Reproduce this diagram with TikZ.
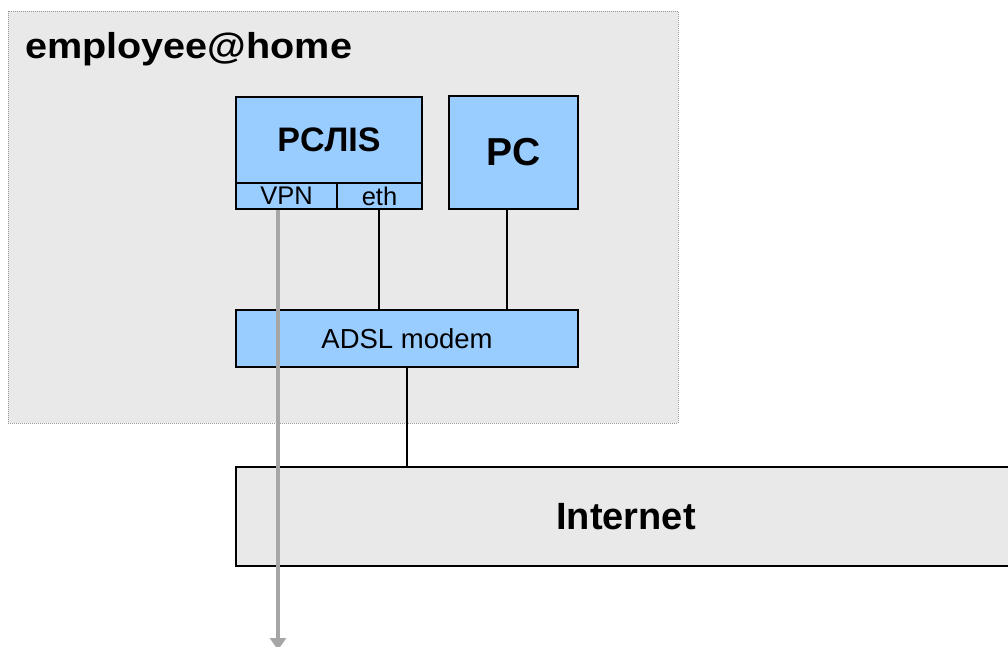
\documentclass[tikz,border=0pt]{standalone}
\usepackage{fontspec}
\setmainfont{Liberation Sans}
\newfontfamily\widefont[FakeStretch=1.1]{Liberation Sans}
\usetikzlibrary{arrows.meta}
\definecolor{boxblue}{HTML}{99CCFF}
\definecolor{boxgray}{HTML}{E9E9E9}
\definecolor{arrowgray}{HTML}{A6A6A6}
\tikzset{
  bluebox/.style={draw=black, fill=boxblue, line width=1.3pt, inner sep=0pt},
  graybox/.style={draw=black, fill=boxgray, line width=1.6pt, inner sep=0pt},
  wire/.style={draw=black, line width=1.4pt},
  vpnline/.style={draw=arrowgray, line width=4pt, -{Triangle[length=12pt,width=16pt]}},
  zone/.style={draw=gray!80, fill=boxgray, line width=0.9pt, dash pattern=on 1pt off 1pt, inner sep=0pt},
}
\begin{document}
\begin{tikzpicture}[x=1pt,y=-1pt]
\useasboundingbox (0,0) rectangle (1008,646);
\fill[white] (0,0) rectangle (1008,646);
% home zone
\node[zone, minimum width=670, minimum height=412] (home) at (343,217) {};
\node[anchor=base west, inner sep=0pt, font=\widefont\bfseries\fontsize{36}{40}\selectfont] (hometitle) at (25,58) {employee@home};
% PC/IS
\node[bluebox, minimum width=186, minimum height=86, font=\bfseries\fontsize{34}{38}\selectfont] (pcis) at (329,140) {PCЛIS};
\node[bluebox, minimum width=101, minimum height=26, font=\fontsize{25.5}{28}\selectfont] (vpn) at (286.5,196) {VPN};
\node[bluebox, minimum width=85, minimum height=26, font=\fontsize{25.5}{28}\selectfont] (eth) at (379.5,196) {eth};
% PC
\node[bluebox, minimum width=129, minimum height=113, font=\bfseries\fontsize{39}{42}\selectfont] (pc) at (513.5,152.5) {PC};
% modem
\node[bluebox, minimum width=342, minimum height=57, font=\fontsize{27.5}{30}\selectfont] (modem) at (407,338.5) {ADSL modem};
% Internet
\node[graybox, minimum width=780, minimum height=99, font=\bfseries\fontsize{38}{42}\selectfont] (inet) at (626,516.5) {Internet};
% wires
\draw[wire] ([xshift=-0.5pt]eth.south) -- ([xshift=-0.5pt]eth.south |- modem.north);
\draw[wire] ([xshift=-6.5pt]pc.south) -- ([xshift=-6.5pt]pc.south |- modem.north);
\draw[wire] (modem.south) -- (modem.south |- inet.north);
% VPN tunnel arrow
\coordinate (vpnend) at (278,650);
\draw[vpnline] ([xshift=-8.5pt]vpn.south) -- (vpnend);
\end{tikzpicture}
\end{document}
